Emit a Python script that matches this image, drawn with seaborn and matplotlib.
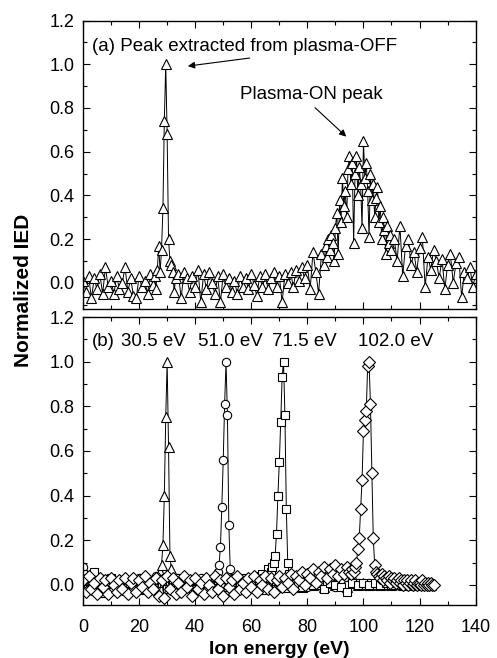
import matplotlib
matplotlib.use("Agg")
import matplotlib.pyplot as plt
import seaborn as sns
from matplotlib.ticker import MultipleLocator, FormatStrFormatter

# (a) measured IED, plasma-OFF peak plus plasma-ON peak
top_energy = [0, 1, 2, 3, 4, 5, 6, 7, 8, 9, 10, 11, 12, 13, 14, 15, 16, 17, 18, 19, 20, 21, 22, 23, 24, 25,
              25.5, 26, 26.5, 27, 27.5, 28, 28.5, 29, 29.5, 30, 30.5, 31, 31.5, 32, 32.5, 33,
              34, 35, 36, 37, 38, 39, 40, 41, 42, 43, 44, 45, 46, 47, 48, 49, 50, 51, 52, 53, 54, 55, 56, 57, 58, 59,
              60, 61, 62, 63, 64, 65, 66, 67, 68, 69, 70, 71, 72, 73, 74, 75, 76, 77, 78, 79, 80, 81, 82, 83, 84, 85, 86,
              86.5, 87, 87.5, 88, 88.5, 89, 89.5, 90, 90.5, 91, 91.5, 92, 92.5, 93, 93.5, 94, 94.5, 95, 95.5, 96,
              96.5, 97, 97.5, 98, 98.5, 99, 99.5, 100, 100.5, 101, 101.5, 102, 102.5, 103, 103.5, 104, 104.5, 105,
              105.5, 106, 106.5, 107, 107.5, 108, 108.5, 109, 109.5, 110,
              111, 112, 113, 114, 115, 116, 117, 118, 119, 120, 121, 122, 123, 124, 125, 126, 127, 128, 129, 130,
              131, 132, 133, 134, 135, 136, 137, 138, 139, 140]
top_ied = [0.01, -0.04, 0.03, -0.07, 0.02, -0.03, 0.04, -0.05, 0.07, -0.02, 0.01, -0.05, 0.03, -0.03, 0.0, 0.07,
           -0.04, 0.02, -0.06, -0.07, 0.03, -0.02, 0.01, -0.05, 0.04, -0.01,
           0.03, -0.03, 0.06, 0.17, 0.05, 0.15, 0.34, 0.74, 1.0, 0.68, 0.2, 0.1, 0.08, 0.05, -0.04, 0.02,
           0.04, -0.07, 0.05, 0.02, -0.04, 0.03, -0.02, 0.06, -0.09, 0.04, -0.03, 0.05, 0.0, -0.05, 0.03, -0.09,
           0.04, -0.02, 0.02, -0.04, 0.01, -0.05, 0.03, -0.02, 0.02, -0.03, 0.04, -0.01, -0.06, 0.03, -0.02, 0.04,
           -0.03, 0.02, 0.05, -0.02, 0.03, -0.09, 0.04, 0.0, 0.05, -0.02, 0.06, 0.01, 0.07, 0.02, 0.08, -0.03,
           0.14, 0.05, -0.05, 0.13, 0.08,
           0.17, 0.12, 0.2, 0.15, 0.22, 0.18, 0.1, 0.25, 0.32, 0.13, 0.38, 0.28, 0.48, 0.35, 0.42, 0.3, 0.52, 0.58,
           0.45, 0.55, 0.18, 0.5, 0.58, 0.4, 0.53, 0.45, 0.25, 0.65, 0.48, 0.55, 0.42, 0.21, 0.5, 0.38, 0.45, 0.3,
           0.39, 0.44, 0.28, 0.35, 0.2, 0.3, 0.24, 0.13, 0.26, 0.18, 0.22, 0.15,
           0.2, 0.1, 0.26, 0.03, 0.17, 0.2, 0.08, 0.14, 0.05, 0.16, 0.21, -0.02, 0.12, 0.06, 0.15, 0.1, 0.02, 0.11,
           -0.03, 0.08, 0.13, 0.0, 0.09, 0.12, -0.065, 0.05, 0.02, 0.07, -0.02, 0.04]

# (b) reference peaks
tri_energy = [0, 2, 4, 6, 8, 10, 12, 14, 16, 18, 20, 22, 24, 26, 27, 27.5, 28, 28.5, 29, 29.5, 30, 30.5, 31,
              31.5, 32, 34, 36, 38, 40, 42, 44, 46, 48, 50, 52, 54, 56, 58, 60, 62, 64, 66, 68, 70, 72, 74, 76,
              78, 80, 82, 84, 86, 88, 90, 92, 94, 96, 98, 100, 102, 104, 106, 108, 110, 112, 114, 116, 118, 120,
              122, 124]
tri_ied = [0.03, -0.02, 0.02, -0.03, 0.01, 0.03, -0.02, 0.02, -0.01, 0.03, -0.02, 0.01, 0.02, 0.03, 0.04, 0.06,
           0.09, 0.18, 0.4, 0.75, 1.0, 0.62, 0.13, 0.07, 0.03, -0.02, 0.02, -0.01, 0.02, -0.02, 0.01, 0.02, -0.01,
           0.02, -0.02, 0.01, 0.02, -0.01, 0.01, 0.02, -0.02, 0.01, 0.0, 0.02, -0.01, 0.01, 0.02, -0.01, 0.01,
           0.0, 0.02, -0.01, 0.01, 0.0, 0.01, -0.01, 0.01, 0.0, 0.01, 0.0, 0.01, 0.0, 0.01, 0.0, 0.01, 0.0, 0.01,
           0.0, 0.01, 0.0, 0.0]

cir_energy = [0, 2, 4, 6, 8, 10, 12, 14, 16, 18, 20, 22, 24, 26, 28, 30, 32, 34, 36, 38, 40, 42, 44, 46,
              47, 47.5, 48, 48.5, 49, 49.5, 50, 50.5, 51, 51.5, 52, 52.5, 53,
              54, 56, 58, 60, 62, 64, 66, 68, 70, 72, 74, 76, 78, 80, 82, 84, 86, 88, 90, 92, 94, 96, 98, 100,
              102, 104, 106, 108, 110, 112, 114, 116, 118, 120, 122, 124]
cir_ied = [0.08, 0.02, -0.02, 0.03, -0.01, 0.02, -0.03, 0.01, 0.02, -0.02, 0.03, -0.01, 0.01, 0.04, 0.02,
           -0.02, 0.01, 0.03, -0.02, 0.02, 0.0, 0.03, -0.01, 0.02,
           0.03, 0.04, 0.06, 0.09, 0.17, 0.35, 0.56, 0.81, 1.0, 0.76, 0.27, 0.07, 0.03,
           0.01, -0.02, 0.02, -0.01, 0.02, 0.0, 0.03, -0.02, 0.01, 0.02, -0.01, 0.02, 0.01, -0.01, 0.02, 0.0,
           0.01, 0.02, -0.01, 0.01, 0.0, 0.02, 0.01, 0.0, 0.01, 0.0, 0.01, 0.0, 0.01, 0.0, 0.01, 0.0, 0.0, 0.01,
           0.0, 0.0]

sq_energy = [0, 2, 4, 6, 8, 10, 12, 14, 16, 18, 20, 22, 24, 26, 28, 30, 32, 34, 36, 38, 40, 42, 44, 46, 48,
             50, 52, 54, 56, 58, 60, 62, 64, 66,
             67, 67.5, 68, 68.5, 69, 69.5, 70, 70.5, 71, 71.5, 72, 72.5, 73, 73.5, 74,
             76, 78, 80, 82, 84, 86, 88, 90, 92, 94, 96, 98, 100, 102, 104, 106, 108, 110, 112, 114, 116, 118,
             120, 122, 124]
sq_ied = [0.05, 0.03, 0.06, 0.02, -0.01, 0.03, -0.02, 0.02, 0.01, -0.02, 0.02, 0.0, -0.01, 0.02, 0.01, -0.02,
          0.02, -0.01, 0.01, 0.02, -0.02, 0.01, 0.02, 0.0, 0.02, -0.01, 0.01, 0.02, 0.0, 0.03, 0.02, 0.04, 0.05,
          0.07,
          0.06, 0.08, 0.1, 0.13, 0.23, 0.4, 0.55, 0.73, 0.93, 1.0, 0.76, 0.34, 0.1, 0.05, 0.02,
          0.01, -0.01, 0.02, 0.0, 0.01, -0.02, 0.01, 0.0, -0.01, -0.03, 0.01, 0.0, 0.01, 0.0, 0.01, 0.0, 0.01,
          0.0, 0.01, 0.0, 0.0, 0.01, 0.0, 0.0, 0.0]

dia_energy = [0, 1, 2, 3, 4, 5, 6, 7, 8, 9, 10, 11, 12, 13, 14, 15, 16, 17, 18, 19, 20, 21, 22, 23, 24, 25,
              26, 27, 28, 29, 30, 31, 32, 33, 34, 35, 36, 37, 38, 39, 40, 41, 42, 43, 44, 45, 46, 47, 48, 49,
              50, 51, 52, 53, 54, 55, 56, 57, 58, 59, 60, 61, 62, 63, 64, 65, 66, 67, 68, 69, 70, 71, 72, 73,
              74, 75, 76, 77, 78, 79, 80, 81, 82, 83, 84, 85, 86, 87, 88, 89, 90, 91, 92, 93, 94, 95,
              95.5, 96, 96.5, 97, 97.5, 98, 98.5, 99, 99.5, 100, 100.5, 101, 101.5, 102, 102.5, 103, 103.5,
              104, 104.5, 105,
              105.5, 106, 106.5, 107, 107.5, 108, 108.5, 109, 109.5, 110, 110.5, 111, 111.5, 112, 112.5, 113,
              113.5, 114, 114.5, 115, 115.5, 116, 116.5, 117, 117.5, 118, 118.5, 119, 119.5, 120, 120.5, 121,
              121.5, 122, 122.5, 123, 123.5, 124, 124.5, 125]
dia_ied = [0.02, -0.03, 0.04, -0.02, 0.01, -0.04, 0.03, -0.01, 0.02, -0.04, 0.03, 0.0, -0.03, 0.02, -0.02,
           0.03, -0.04, 0.01, 0.03, -0.03, 0.02, -0.01, 0.04, -0.03, 0.01, -0.02, 0.03, -0.05, 0.02, -0.06,
           0.04, -0.02, 0.03, -0.04, 0.01, -0.03, 0.04, -0.01, 0.02, -0.05, 0.03, -0.02, 0.01, -0.04, 0.03,
           0.0, -0.03, 0.04, -0.02, 0.02, -0.05, 0.03, -0.01, 0.02, -0.04, 0.04, -0.02, 0.01, -0.03, 0.03,
           -0.01, 0.04, -0.03, 0.02, 0.0, 0.04, -0.02, 0.03, -0.03, 0.02, 0.04, -0.01, 0.03, 0.01, 0.05,
           -0.02, 0.04, 0.02, 0.06, 0.0, 0.05, 0.03, 0.07, 0.01, 0.06, 0.04, 0.08, 0.03, 0.07, 0.05, 0.09,
           0.04, 0.07, 0.05, 0.08, 0.06,
           0.05, 0.07, 0.06, 0.08, 0.1, 0.16, 0.21, 0.34, 0.47, 0.69, 0.74, 0.78, 0.98, 1.0, 0.81, 0.5, 0.21,
           0.09, 0.06, 0.05,
           0.04, 0.03, 0.05, 0.02, 0.04, 0.03, 0.02, 0.04, 0.01, 0.03, 0.02, 0.03, 0.01, 0.02, 0.03, 0.01,
           0.02, 0.0, 0.02, 0.01, 0.02, 0.0, 0.01, 0.02, 0.0, 0.01, 0.02, 0.0, 0.01, 0.01, 0.0, 0.02,
           0.0, 0.01, 0.0, 0.01, 0.0, 0.01, 0.0, 0.0]

peak_labels = ["30.5 eV", "51.0 eV", "71.5 eV", "102.0 eV"]
peak_label_x = [13.6, 41.1, 67.5, 98.2]

sns.set_theme(style="ticks")
plt.rcParams["font.family"] = ["Liberation Sans", "DejaVu Sans"]
plt.rcParams.update({
    "axes.linewidth": 1.0,
    "text.color": "black",
    "axes.labelcolor": "black",
    "xtick.color": "black",
    "ytick.color": "black",
})

fig = plt.figure(figsize=(4.97, 6.58), dpi=100)
ax_a = fig.add_axes([0.167, 0.5304, 0.790, 0.4384])
ax_b = fig.add_axes([0.167, 0.0805, 0.790, 0.4377])

style = dict(color="black", lw=0.7, markerfacecolor="white", markeredgecolor="black",
             markeredgewidth=0.8, sort=False, estimator=None)

sns.lineplot(x=top_energy, y=top_ied, ax=ax_a, marker="^", markersize=7, **style)

sns.lineplot(x=tri_energy, y=tri_ied, ax=ax_b, marker="^", markersize=7, **style)
sns.lineplot(x=cir_energy, y=cir_ied, ax=ax_b, marker="o", markersize=6, **style)
sns.lineplot(x=sq_energy, y=sq_ied, ax=ax_b, marker="s", markersize=6, **style)
sns.lineplot(x=dia_energy, y=dia_ied, ax=ax_b, marker="D", markersize=6, **style)

for ax in (ax_a, ax_b):
    ax.set_xlim(0, 140)
    ax.xaxis.set_major_locator(MultipleLocator(20))
    ax.xaxis.set_minor_locator(MultipleLocator(10))
    ax.yaxis.set_major_locator(MultipleLocator(0.2))
    ax.yaxis.set_minor_locator(MultipleLocator(0.1))
    ax.yaxis.set_major_formatter(FormatStrFormatter("%.1f"))
    ax.tick_params(which="both", direction="in", top=True, right=True, labelsize=13, width=0.8)
    ax.tick_params(which="major", length=5)
    ax.tick_params(which="minor", length=3)
    ax.tick_params(axis="y", pad=6)
    ax.tick_params(axis="x", pad=10)
    ax.set_ylabel("")
    for sp in ax.spines.values():
        sp.set_color("black")

ax_a.set_ylim(-0.12, 1.2)
ax_b.set_ylim(-0.09, 1.2)
ax_a.tick_params(labelbottom=False)

ax_b.set_xlabel("Ion energy (eV)", fontsize=14, fontweight="bold", labelpad=4)
fig.text(0.047, 0.559, "Normalized IED", rotation=90, ha="center", va="center",
         fontsize=15, fontweight="bold")

ax_a.text(3.2, 1.08, "(a) Peak extracted from plasma-OFF", fontsize=13.5, va="center", ha="left")
ax_a.annotate("", xy=(36.4, 0.99), xytext=(60.4, 1.03),
              arrowprops=dict(arrowstyle="-|>", color="black", lw=0.8, mutation_scale=10))
ax_a.text(56, 0.86, "Plasma-ON peak", fontsize=13.5, va="center", ha="left")
ax_a.annotate("", xy=(94.6, 0.66), xytext=(82, 0.81),
              arrowprops=dict(arrowstyle="-|>", color="black", lw=0.8, mutation_scale=10))

ax_b.text(3.2, 1.09, "(b)", fontsize=13.5, va="center", ha="left")
for lbl, xpos in zip(peak_labels, peak_label_x):
    ax_b.text(xpos, 1.09, lbl, fontsize=13.5, va="center", ha="left")

fig.savefig("out.png", dpi=100)
